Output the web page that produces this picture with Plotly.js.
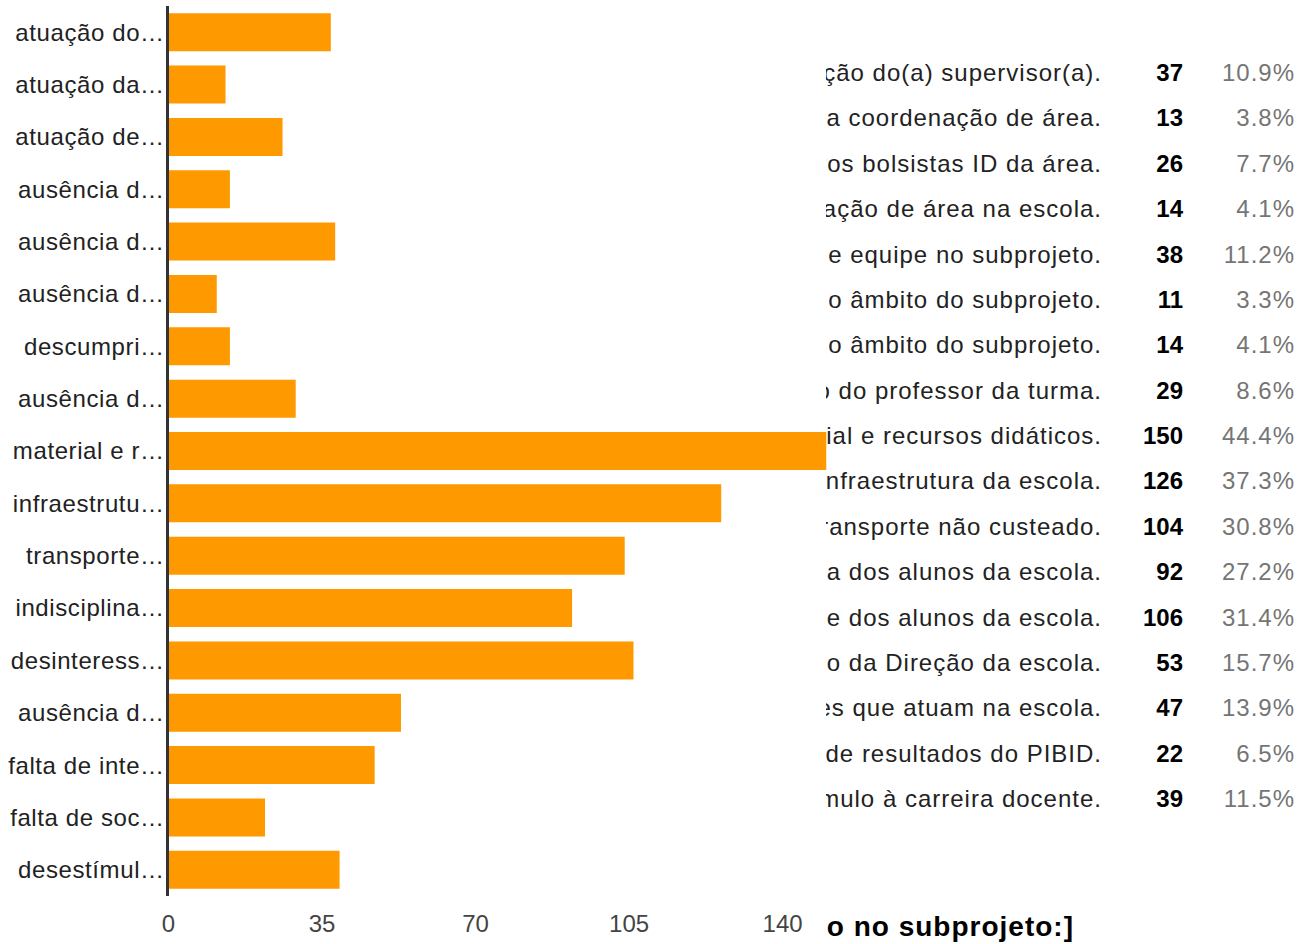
<!DOCTYPE html>
<html>
<head>
<meta charset="utf-8">
<script src="https://cdn.plot.ly/plotly-3.0.1.min.js"></script>
<style>
html,body{margin:0;padding:0;background:#fff;}
#chart{width:1314px;height:944px;}
/* texts are rendered slightly wider in the reference */
#chart .scatterlayer .trace:nth-child(1) text,
#chart .scatterlayer .trace:nth-child(3) text{letter-spacing:1.0px;}
#chart .scatterlayer .trace:nth-child(4) text{letter-spacing:1px;}
#chart .ytick text{letter-spacing:0.6px;}
</style>
</head>
<body>
<div id="chart"></div>
<script>
// ---- data ----
const categories = [
  "atuação do(a) supervisor(a).",
  "atuação da coordenação de área.",
  "atuação de outros bolsistas ID da área.",
  "ausência de coordenação de área na escola.",
  "ausência de trabalho de equipe no subprojeto.",
  "ausência de planejamento no âmbito do subprojeto.",
  "descumprimento de atividades no âmbito do subprojeto.",
  "ausência de apoio do professor da turma.",
  "material e recursos didáticos.",
  "infraestrutura da escola.",
  "transporte não custeado.",
  "indisciplina dos alunos da escola.",
  "desinteresse dos alunos da escola.",
  "ausência de apoio da Direção da escola.",
  "falta de integração com os professores que atuam na escola.",
  "falta de socialização de resultados do PIBID.",
  "desestímulo à carreira docente."
];
const tickLabels = [
  "atuação do…", "atuação da…", "atuação de…", "ausência d…", "ausência d…",
  "ausência d…", "descumpri…", "ausência d…", "material e r…", "infraestrutu…",
  "transporte…", "indisciplina…", "desinteress…", "ausência d…", "falta de inte…",
  "falta de soc…", "desestímul…"
];
const counts = [37, 13, 26, 14, 38, 11, 14, 29, 150, 126, 104, 92, 106, 53, 47, 22, 39];
const percents = ["10.9", "3.8", "7.7", "4.1", "11.2", "3.3", "4.1", "8.6", "44.4", "37.3", "30.8", "27.2", "31.4", "15.7", "13.9", "6.5", "11.5"];
const xTickValues = [0, 35, 70, 105, 140];
const chartTitle = "o no subprojeto:]";   // visible part of the (clipped) question title

// ---- layout helpers (pixel -> paper) ----
const W = 1314, H = 944;
const fx = p => p / W;
const fy = p => 1 - p / H;
const FONT = "Liberation Sans, Arial, Helvetica, sans-serif";

const rows = categories.map((_, i) => i);

// table subplot: row i centre at rowTop + rowStep*i px
const rowTop = 75, rowStep = 45.375;
const tRange = [(H - rowTop) / rowStep, -rowTop / rowStep];
const titleRow = (929 - rowTop) / rowStep;

const bars = {
  type: "bar", orientation: "h",
  x: counts, y: rows,
  xaxis: "x", yaxis: "y",
  marker: {color: "#ff9900", line: {width: 0}},
  width: 0.726,
  hoverinfo: "skip"
};

function textTrace(xpos, ys, texts, font) {
  return {
    type: "scatter", mode: "text",
    x: ys.map(() => xpos), y: ys, text: texts,
    textposition: "middle left",
    textfont: font,
    cliponaxis: true,
    xaxis: "x2", yaxis: "y2",
    hoverinfo: "skip"
  };
}

const tblLabels = textTrace(1102, rows, categories, {family: FONT, size: 24, color: "#222"});
const tblCounts = textTrace(1183, rows, counts.map(String), {family: FONT, size: 24, color: "#000", weight: "bold"});
const tblPerc = textTrace(1295, rows, percents.map(p => p + "%"), {family: FONT, size: 24, color: "#757575"});
const tblTitle = textTrace(1074, [titleRow], [chartTitle], {family: FONT, size: 28, color: "#000", weight: "bold"});

const layout = {
  width: W, height: H,
  margin: {l: 0, r: 0, t: 0, b: 0, pad: 0},
  paper_bgcolor: "#fff", plot_bgcolor: "rgba(0,0,0,0)",
  showlegend: false,
  font: {family: FONT, color: "#222"},
  xaxis: {
    domain: [fx(168.5), fx(826.5)],
    range: [0, 150],
    tickvals: xTickValues,
    ticktext: xTickValues.map(String),
    tickfont: {family: FONT, size: 24, color: "#444"},
    showgrid: false, zeroline: false, showline: false,
    ticks: "", ticklabelstandoff: 11,
    fixedrange: true, anchor: "y"
  },
  yaxis: {
    domain: [fy(896), fy(6)],
    range: [categories.length - 0.5, -0.5],
    tickvals: rows,
    ticktext: tickLabels,
    tickfont: {family: FONT, size: 24, color: "#222"},
    showgrid: false, zeroline: false,
    showline: true, linecolor: "#333", linewidth: 3,
    ticks: "", ticklabelstandoff: -4,
    fixedrange: true, anchor: "x"
  },
  xaxis2: {
    domain: [fx(826), 1],
    range: [826, 1314],
    visible: false, fixedrange: true, anchor: "y2"
  },
  yaxis2: {
    domain: [0, 1],
    range: tRange,
    visible: false, fixedrange: true, anchor: "x2"
  }
};

Plotly.newPlot("chart", [bars, tblLabels, tblCounts, tblPerc, tblTitle], layout,
  {displayModeBar: false, staticPlot: true});
</script>
</body>
</html>
